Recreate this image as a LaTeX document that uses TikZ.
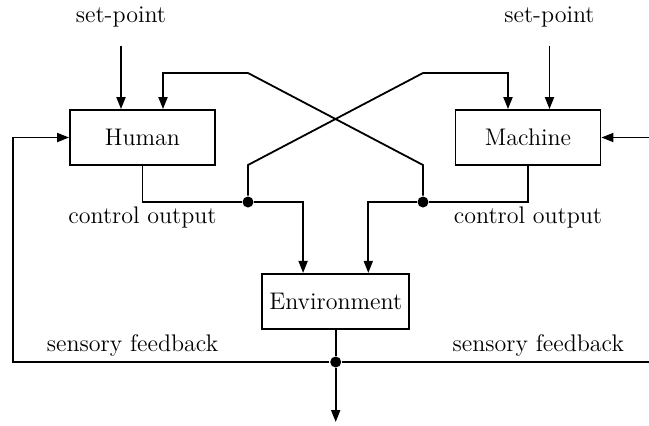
\documentclass[tikz,border=0pt]{standalone}
\usetikzlibrary{arrows.meta, positioning}

\begin{document}
\begin{tikzpicture}[x=0.5pt, y=-0.5pt, line width=0.9pt,
    >={Triangle[length=6pt,width=4.5pt]},
    block/.style={draw, minimum width=72.5pt, minimum height=27.5pt, font=\fontsize{12}{14}\selectfont},
    lbl/.style={font=\fontsize{12}{14}\selectfont},
    junc/.style={circle, fill, inner sep=0pt, minimum size=5.5pt}]

    \useasboundingbox (0,0) rectangle (649,425);

    \node [block] (human) at (142.5,137.5) {Human};
    \node [block] (machine) at (528,137.5) {Machine};
    \node [block, minimum width=73.5pt] (env) at (335.7,301.3) {Environment};

    \node [lbl] (sph) at (121,17) {set-point};
    \node [lbl] (spm) at (549.5,17) {set-point};
    \node [lbl] (coh) at (142.5,217) {control output};
    \node [lbl] (com) at (528,217) {control output};
    \node [lbl] (sfh) at (132.5,345) {sensory feedback};
    \node [lbl] (sfm) at (538.3,345) {sensory feedback};

    \node [junc] (jh) at (248,202) {};
    \node [junc] (jm) at (423,202) {};
    \node [junc] (je) at (335.7,362) {};
    \coordinate (out) at (335.7,422);

    % set-points
    \draw[->] ([yshift=-5.5pt]sph.south) -- ([xshift=-10.75pt]human.north);
    \draw[->] ([yshift=-5.5pt]spm.south) -- ([xshift=10.75pt]machine.north);

    % control outputs
    \draw[->] (human.south) |- (jh) -| ([xshift=-16.3pt]env.north);
    \draw[->] (machine.south) |- (jm) -| ([xshift=16.3pt]env.north);

    % crossing
    \draw[->] (jh) -- ++(0,-37) -- ++(175,-92) -| ([xshift=-10pt]machine.north);
    \draw[->] (jm) -- ++(0,-37) -- ++(-175,-92) -| ([xshift=10.25pt]human.north);

    % sensory feedback
    \draw (env.south) -- (je);
    \draw[->] (je) -- (out);
    \draw[->] (je) -| ([xshift=-28pt]human.west) -- (human.west);
    \draw[->] (je) -| ([xshift=25.75pt]machine.east) -- (machine.east);

\end{tikzpicture}
\end{document}
